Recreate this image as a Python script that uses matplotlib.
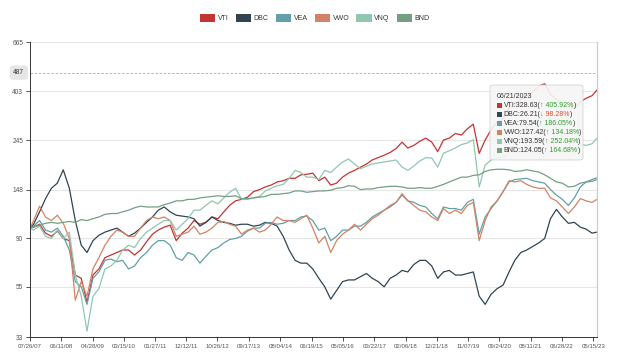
import pandas as pd
import matplotlib
matplotlib.use("Agg")
import matplotlib.pyplot as plt
from matplotlib.patches import Patch, Rectangle, FancyBboxPatch
from matplotlib.ticker import NullLocator

plt.rcParams["font.family"] = ["Liberation Sans", "DejaVu Sans"]

names = ["VTI", "DBC", "VEA", "VWO", "VNQ", "BND"]
colors = ["#c23531", "#2f4554", "#61a0a8", "#d48265", "#91c7ae", "#749f83"]

# start date, then every 2 months, then the last date
dates = (pd.DatetimeIndex([pd.Timestamp("2007-07-26")])
         .append(pd.date_range("2007-09-01", "2023-05-01", freq="2MS"))
         .append(pd.DatetimeIndex([pd.Timestamp("2023-06-21")])))

vti = [100, 101, 104, 95, 92, 97, 90, 88, 62, 60,
       47, 62, 66, 74, 76, 78, 80, 80, 76, 80,
       87, 94, 98, 101, 103, 88, 95, 100, 108, 104,
       106, 112, 110, 118, 126, 132, 134, 137, 145, 148,
       152, 155, 160, 162, 166, 166, 172, 173, 175, 162,
       168, 155, 158, 168, 175, 180, 186, 192, 200, 205,
       210, 216, 225, 240, 226, 232, 242, 250, 240, 218,
       245, 250, 262, 258, 275, 288, 214, 245, 272, 295,
       305, 340, 355, 370, 385, 400, 425, 435, 390, 372,
       350, 345, 338, 362, 375, 385, 408]
dbc = [100, 104, 118, 135, 150, 158, 181, 150, 108, 84,
       78, 88, 93, 96, 98, 100, 96, 92, 95, 100,
       106, 112, 120, 124, 118, 114, 113, 112, 110, 102,
       106, 112, 108, 106, 105, 103, 104, 104, 102, 103,
       106, 105, 102, 92, 80, 72, 70, 70, 66, 60,
       55, 48.5, 53, 58, 59, 59, 61, 63, 60, 58,
       55, 60, 62, 65, 64, 69, 72, 72, 68, 60,
       64, 65, 62, 62, 63, 64, 50, 46, 51, 54,
       56, 64, 72, 78, 80, 83, 86, 90, 110, 121,
       112, 105, 106, 101, 99, 95, 96]
vea = [100, 102, 108, 98, 96, 100, 92, 80, 58, 55,
       46, 60, 64, 72, 73, 71, 72, 66, 68, 74,
       78, 84, 88, 88, 84, 74, 72, 78, 76, 70,
       75, 80, 82, 86, 89, 90, 92, 97, 100, 100,
       105, 106, 104, 105, 108, 108, 112, 113, 108, 98,
       100, 88, 92, 98, 98, 102, 102, 106, 112, 116,
       120, 124, 130, 140, 132, 130, 126, 124, 116, 110,
       124, 122, 122, 120, 130, 134, 94, 112, 122, 132,
       145, 160, 164, 165, 166, 162, 160, 158, 148, 140,
       134, 126, 136, 152, 160, 164, 167]
vwo = [100, 108, 125, 112, 108, 114, 105, 90, 48, 58,
       50, 66, 74, 84, 92, 98, 96, 92, 92, 100,
       108, 112, 110, 112, 108, 92, 94, 96, 102, 94,
       96, 100, 106, 107, 104, 102, 94, 98, 100, 96,
       98, 104, 112, 108, 108, 106, 110, 114, 100, 86,
       92, 78, 88, 94, 98, 104, 98, 104, 110, 114,
       120, 126, 130, 142, 132, 126, 120, 118, 112, 108,
       122, 116, 120, 116, 126, 130, 88, 108, 124, 132,
       145, 162, 160, 162, 156, 152, 150, 150, 136, 132,
       124, 116, 124, 135, 132, 130, 134]
vnq = [100, 98, 102, 92, 90, 98, 90, 96, 62, 50,
       35, 50, 54, 66, 68, 72, 80, 84, 82, 90,
       96, 100, 104, 108, 108, 98, 104, 110, 120, 120,
       126, 132, 128, 136, 144, 150, 134, 134, 136, 138,
       146, 150, 154, 156, 166, 180, 176, 168, 168, 164,
       180, 176, 186, 196, 202, 192, 183, 188, 192, 194,
       196, 198, 200, 186, 180, 188, 198, 205, 204, 186,
       214, 220, 226, 234, 238, 246, 152, 190, 200, 204,
       204, 220, 238, 262, 280, 286, 305, 318, 300, 275,
       255, 240, 215, 235, 232, 236, 250]
bnd = [100, 101, 103, 105, 106, 105, 106, 107, 106, 109,
       108, 110, 112, 115, 116, 116, 118, 120, 123, 125,
       124, 124, 124, 127, 129, 132, 132, 134, 134, 136,
       137, 138, 139, 138, 138, 139, 135, 135, 136, 137,
       138, 141, 141, 142, 143, 146, 146, 144, 145, 146,
       146, 147, 150, 151, 154, 153, 148, 149, 149, 151,
       152, 153, 153, 152, 150, 150, 151, 150, 150, 153,
       156, 160, 164, 168, 168, 171, 172, 178, 181, 182,
       182, 181, 178, 179, 181, 179, 177, 172, 166, 160,
       158, 152, 153, 158, 160, 161, 164]
series = [vti, dbc, vea, vwo, vnq, bnd]

y_ticks = [33, 55, 90, 148, 245, 403, 665]
x_tick_labels = ["07/26/07", "06/11/08", "04/28/09", "03/15/10", "01/27/11",
                 "12/12/11", "10/26/12", "09/17/13", "08/04/14", "06/19/15",
                 "05/05/16", "03/22/17", "02/06/18", "12/21/18", "11/07/19",
                 "09/24/20", "08/11/21", "06/28/22", "05/15/23"]
pointer_y = 487

tip_date = "06/21/2023"
tip_vals = [328.63, 26.21, 79.54, 127.42, 193.59, 124.05]
tip_pct = [405.92, 98.28, 186.05, 134.18, 252.04, 164.68]
tip_up = [True, False, True, True, True, True]

W, H = 630, 355
fig = plt.figure(figsize=(6.3, 3.55), dpi=100)
ax = fig.add_axes([30 / W, 1 - 337 / H, 567 / W, 295 / H])

for name, vals, c in zip(names, series, colors):
    ax.plot(dates, vals, color=c, lw=0.9, label=name)

ax.set_yscale("log")
ax.set_ylim(33, 665)
ax.yaxis.set_minor_locator(NullLocator())
ax.set_yticks(y_ticks)
ax.set_yticklabels([str(v) for v in y_ticks])
ax.set_xlim(dates[0], dates[-1])
ax.set_xticks(pd.to_datetime(x_tick_labels, format="%m/%d/%y"))
ax.set_xticklabels(x_tick_labels)
ax.tick_params(axis="x", labelsize=4.4, colors="#333333", labelcolor="#555555",
               length=3, width=0.6, pad=2)
ax.tick_params(axis="y", labelsize=4.7, colors="#333333", labelcolor="#555555",
               length=3, width=0.6, pad=2)
ax.yaxis.grid(True, color="#e6e6e6", lw=0.8)
ax.set_axisbelow(True)
for s in ["top", "right"]:
    ax.spines[s].set_visible(False)
for s in ["left", "bottom"]:
    ax.spines[s].set_color("#333333")
    ax.spines[s].set_linewidth(0.7)

# hover pointer
ax.axhline(pointer_y, color="#aaaaaa", lw=0.6, ls=(0, (3, 2)))
ax.axvline(dates[-1], color="#cccccc", lw=0.9, clip_on=False)
ax.text(-0.01, pointer_y, str(pointer_y), transform=ax.get_yaxis_transform(),
        ha="right", va="center", fontsize=4.8, color="#333333",
        bbox=dict(boxstyle="round,pad=0.55", fc="#e6e6e6", ec="none"))

handles = [Patch(facecolor=c, edgecolor="none") for c in colors]
fig.legend(handles, names, loc="center", bbox_to_anchor=(0.5, 1 - 18 / H), ncol=6,
           frameon=False, fontsize=5, handlelength=2.2, handleheight=1.4,
           handletextpad=0.4, columnspacing=1.0, labelcolor="#333333")

# tooltip
box = FancyBboxPatch((490 / W, 1 - 160 / H), 93 / W, 75 / H,
                     boxstyle="round,pad=0,rounding_size=0.006",
                     transform=fig.transFigure, fc="#f6f6f6", ec="#d0d0d0",
                     lw=0.6, alpha=0.9)
fig.add_artist(box)
fig.text(497 / W, 1 - 96 / H, tip_date, fontsize=5, color="#333333", va="center")

fig.canvas.draw()
r = fig.canvas.get_renderer()


def put(x, y, s, color):
    t = fig.text(x, y, s, fontsize=5, color=color, va="center", ha="left")
    return x + t.get_window_extent(renderer=r).width / fig.bbox.width


for i, (name, c) in enumerate(zip(names, colors)):
    yy = 1 - (105 + 9.1 * i) / H
    fig.add_artist(Rectangle((497 / W, yy - 2.5 / H), 5 / W, 5 / H,
                             transform=fig.transFigure, fc=c, ec="none"))
    x = put(503.5 / W, yy, f"{name}:{tip_vals[i]:.2f}(", "#333333")
    if tip_up[i]:
        x = put(x, yy, f"\u2191 {tip_pct[i]:.2f}%", "#2e9e2e")
    else:
        x = put(x, yy, f"\u2193 {tip_pct[i]:.2f}%", "#d9532c")
    put(x, yy, ")", "#333333")

fig.savefig("out.png", dpi=100)
